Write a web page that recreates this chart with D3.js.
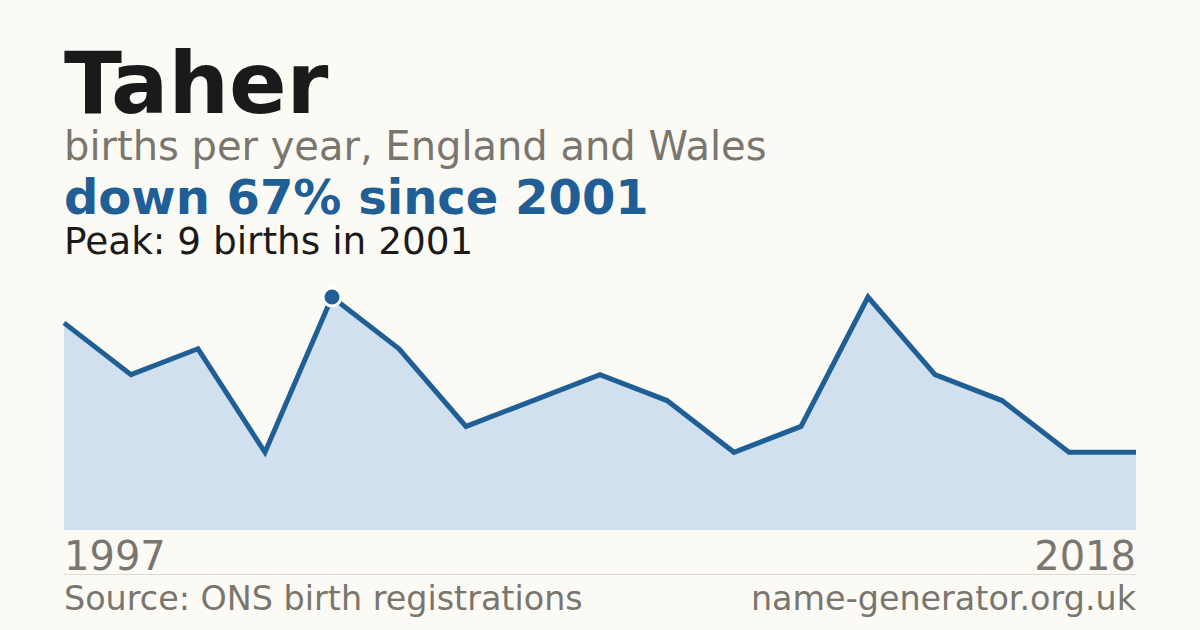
<!DOCTYPE html>
<html>
<head>
<meta charset="utf-8">
<script src="https://cdn.jsdelivr.net/npm/d3@7"></script>
<style>
    html, body { margin: 0; padding: 0; background: #fbfaf5; }
    svg { display: block; font-family: "DejaVu Sans", sans-serif; }
</style>
</head>
<body>
<svg id="chart" width="1200" height="630"></svg>
<script>
// births per year
const years = [1997, 1998, 1999, 2000, 2001, 2002, 2003, 2004, 2005, 2006, 2007, 2008, 2009, 2010, 2011, 2012, 2018];
const births = [8, 6, 7, 3, 9, 7, 4, 5, 6, 5, 3, 4, 9, 6, 5, 3, 3];
const peakYear = 2001;

const colors = {
    bg: '#fbfaf5',
    ink: '#1a1a1a',
    grey: '#7a766e',
    blue: '#1f5f96',
    area: '#d0e0ef',
    rule: '#dedbd4'
};

const svg = d3.select('#chart');
const width = +svg.attr('width');
const height = +svg.attr('height');

const margin = {left: 64, right: 64};
const plotTop = 297;
const plotBottom = 530;

svg.append('rect')
    .attr('width', width)
    .attr('height', height)
    .attr('fill', colors.bg);

// header texts
svg.append('text')
    .attr('x', margin.left).attr('y', 113)
    .attr('font-size', 85).attr('font-weight', 'bold')
    .attr('fill', colors.ink)
    .text('Taher');

svg.append('text')
    .attr('x', margin.left).attr('y', 160)
    .attr('font-size', 40)
    .attr('fill', colors.grey)
    .text('births per year, England and Wales');

svg.append('text')
    .attr('x', margin.left).attr('y', 214)
    .attr('font-size', 48).attr('font-weight', 'bold')
    .attr('fill', colors.blue)
    .text('down 67% since 2001');

svg.append('text')
    .attr('x', margin.left).attr('y', 254)
    .attr('font-size', 37.4)
    .attr('fill', colors.ink)
    .text('Peak: 9 births in 2001');

// scales
const xScale = d3.scalePoint()
    .domain(years)
    .range([margin.left, width - margin.right]);

const yScale = d3.scaleLinear()
    .domain([0, d3.max(births)])
    .range([plotBottom, plotTop]);

const data = years.map((y, i) => ({year: y, value: births[i]}));

const area = d3.area()
    .x(d => xScale(d.year))
    .y0(yScale(0))
    .y1(d => yScale(d.value));

const line = d3.line()
    .x(d => xScale(d.year))
    .y(d => yScale(d.value));

svg.append('path')
    .datum(data)
    .attr('d', area)
    .attr('fill', colors.area);

svg.append('path')
    .datum(data)
    .attr('d', line)
    .attr('fill', 'none')
    .attr('stroke', colors.blue)
    .attr('stroke-width', 5)
    .attr('stroke-linejoin', 'miter');

// peak marker
const peak = data.find(d => d.year === peakYear);
svg.append('circle')
    .attr('cx', xScale(peak.year))
    .attr('cy', yScale(peak.value))
    .attr('r', 9)
    .attr('fill', colors.blue)
    .attr('stroke', 'white')
    .attr('stroke-width', 3);

// axis end labels
svg.append('text')
    .attr('x', margin.left).attr('y', 570)
    .attr('font-size', 40)
    .attr('fill', colors.grey)
    .text(years[0]);

svg.append('text')
    .attr('x', width - margin.right).attr('y', 570)
    .attr('text-anchor', 'end')
    .attr('font-size', 40)
    .attr('fill', colors.grey)
    .text(years[years.length - 1]);

svg.append('line')
    .attr('x1', margin.left).attr('x2', width - margin.right)
    .attr('y1', 574.5).attr('y2', 574.5)
    .attr('stroke', colors.rule)
    .attr('stroke-width', 1);

// footer
svg.append('text')
    .attr('x', margin.left).attr('y', 610)
    .attr('font-size', 33.4)
    .attr('fill', colors.grey)
    .text('Source: ONS birth registrations');

svg.append('text')
    .attr('x', width - margin.right).attr('y', 610)
    .attr('text-anchor', 'end')
    .attr('font-size', 33.4)
    .attr('fill', colors.grey)
    .text('name-generator.org.uk');
</script>
</body>
</html>
